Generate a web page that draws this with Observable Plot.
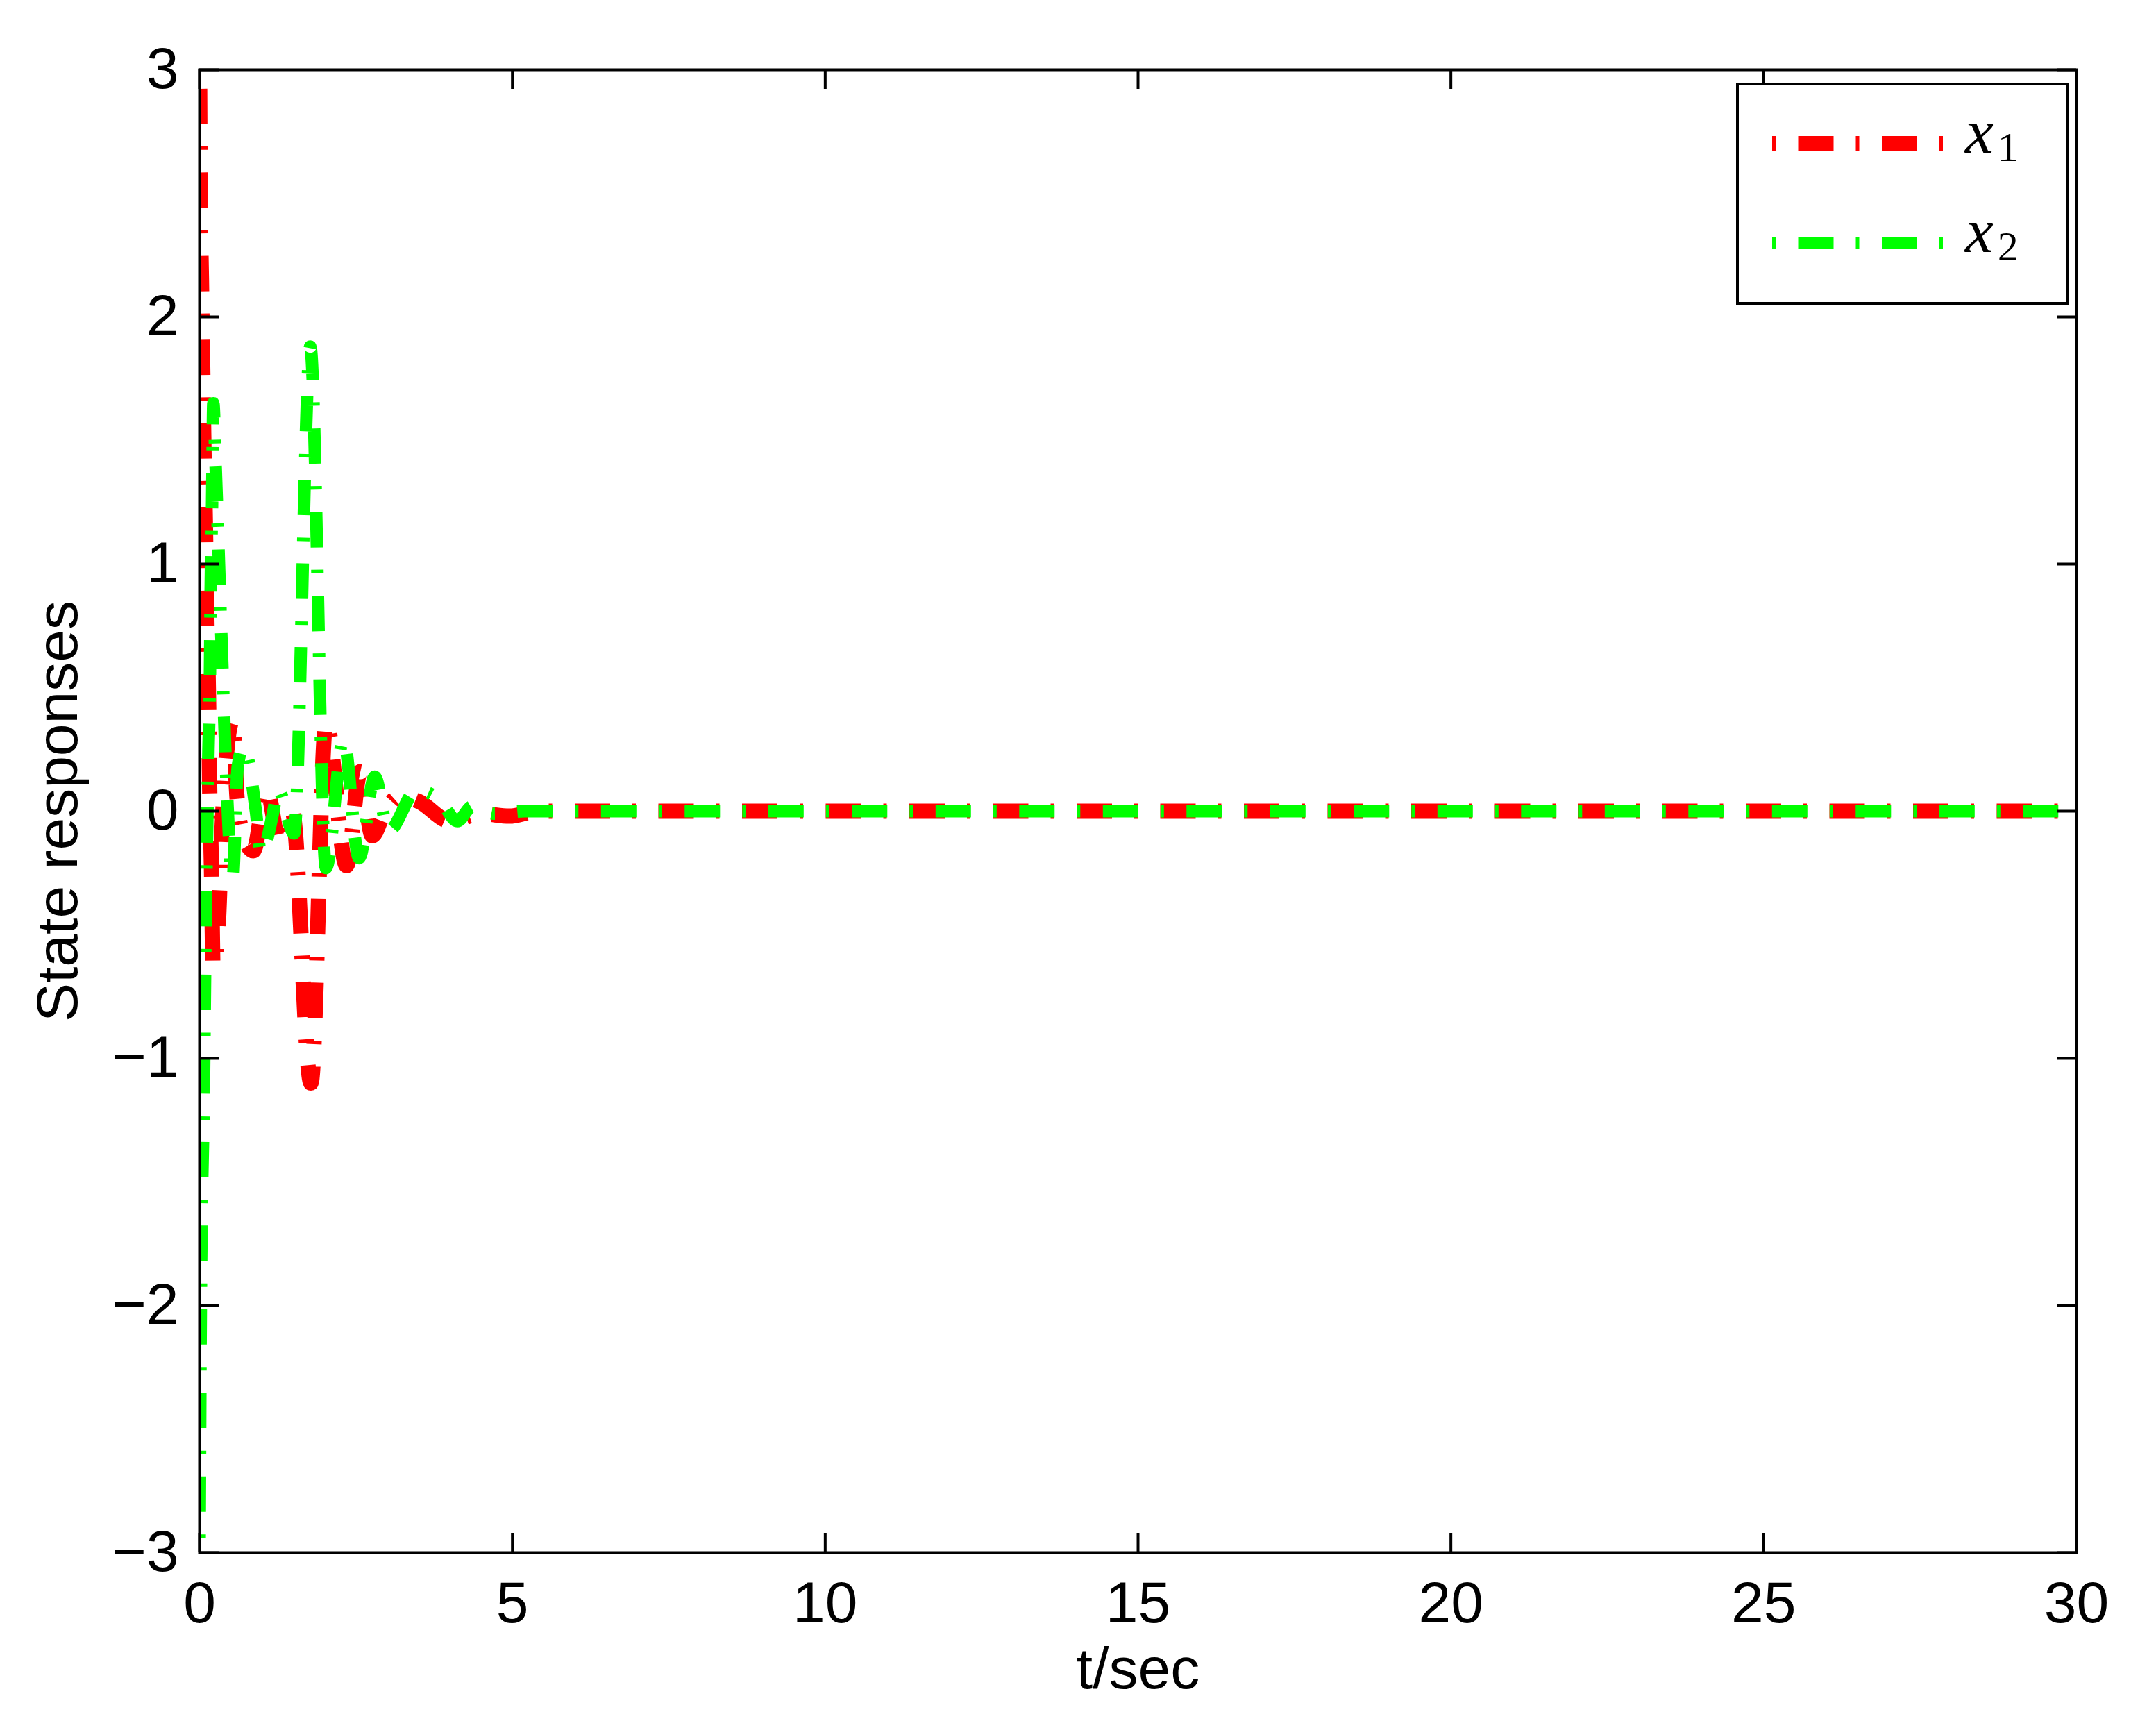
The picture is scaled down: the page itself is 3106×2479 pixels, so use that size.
<!DOCTYPE html>
<html><head><meta charset="utf-8">
<script src="https://cdn.jsdelivr.net/npm/d3@7"></script>
<script src="https://cdn.jsdelivr.net/npm/@observablehq/plot@0.6"></script>
<style>html,body{margin:0;padding:0;background:#fff;} svg{display:block}</style>
</head><body><div id="chart"></div>
<script>
// ---- data ----
const xTicks = [0, 5, 10, 15, 20, 25, 30];
const yTicks = [-3, -2, -1, 0, 1, 2, 3];

// x1 (red)
const t1 = [0, 0.01, 0.03, 0.05, 0.07, 0.095, 0.115, 0.145, 0.16, 0.19, 0.215, 0.30, 0.35, 0.42, 0.53, 0.60, 0.70, 0.86, 1.07, 1.28, 1.48, 1.78, 2.02, 2.35, 2.57, 2.76, 2.96, 3.2, 3.5, 4.0, 4.5, 4.95, 5.4, 30];
const x1 = [3.0, 2.5, 2.15, 1.8, 1.47, 1.13, 0.8, 0.43, 0.12, -0.23, -0.63, -0.45, -0.12, 0.2, 0.37, 0.05, -0.1, -0.16, 0.09, -0.13, 0.0, -1.1, 0.36, -0.22, 0.16, -0.1, 0.0, 0.06, 0.04, -0.04, -0.01, -0.02, 0, 0];

// x2 (green)
const t2 = [0, 0.02, 0.07, 0.10, 0.12, 0.14, 0.166, 0.178, 0.20, 0.22, 0.255, 0.30, 0.344, 0.39, 0.44, 0.53, 0.61, 0.70, 0.90, 0.98, 1.18, 1.25, 1.51, 1.77, 2.02, 2.30, 2.55, 2.80, 3.02, 3.47, 3.84, 4.12, 4.36, 4.7, 5.2, 30];
const x2 = [-3.0, -2.0, -1.1, -0.4, -0.1, 0.22, 0.55, 0.9, 1.24, 1.65, 1.41, 1.08, 0.74, 0.4, 0.06, -0.27, 0.18, 0.26, 0.0, -0.17, 0.0, 0.09, -0.09, 1.88, -0.23, 0.29, -0.19, 0.14, -0.08, 0.085, 0.045, -0.04, 0.02, -0.01, 0, 0];

const seriesNames = ["x1", "x2"];
const seriesSubs = ["1", "2"];
const colors = ["#ff0000", "#00ff00"];

// ---- layout / style ----
const W = 3106, H = 2479;
const M = {left: 287, right: 115, top: 100, bottom: 243};
const plotW = W - M.left - M.right;
const plotH = H - M.top - M.bottom;
const tickLen = 28;
const dash = [5, 32.5, 51, 32];
const P = dash.reduce((a, b) => a + b, 0);
const widths = [22, 18];
// time at which a long dash starts on the settled part (phase of the dash pattern)
const dashPhaseT = [5.98, 6.40];

const d1 = t1.map((t, i) => ({t, v: x1[i]}));
const d2 = t2.map((t, i) => ({t, v: x2[i]}));

const fmt = d => (d < 0 ? "\u2212" : "") + Math.abs(d);

const lineOpts = (k) => ({
  x: "t", y: "v", stroke: colors[k], strokeWidth: widths[k],
  strokeDasharray: dash.join(","), strokeLinecap: "butt", strokeLinejoin: "round",
  curve: "monotone-x", clip: true
});

const chart = Plot.plot({
  width: W, height: H,
  marginLeft: M.left, marginRight: M.right, marginTop: M.top, marginBottom: M.bottom,
  x: {domain: [0, 30], ticks: xTicks},
  y: {domain: [-3, 3], ticks: yTicks},
  style: {fontFamily: "Liberation Sans, Arial, sans-serif", fontSize: "84px", background: "white", color: "black"},
  marks: [
    Plot.line(d1, lineOpts(0)),
    Plot.line(d2, lineOpts(1)),
    Plot.tickX(xTicks, {x: d => d, insetTop: plotH - tickLen, strokeWidth: 4}),
    Plot.tickX(xTicks, {x: d => d, insetBottom: plotH - tickLen, strokeWidth: 4}),
    Plot.tickY(yTicks, {y: d => d, insetRight: plotW - tickLen, strokeWidth: 4}),
    Plot.tickY(yTicks, {y: d => d, insetLeft: plotW - tickLen, strokeWidth: 4}),
    Plot.axisX({ticks: xTicks, tickSize: 0, tickPadding: 41, label: null, fontSize: 84, tickFormat: fmt}),
    Plot.axisY({ticks: yTicks, tickSize: 0, tickPadding: 30, label: null, fontSize: 84, tickFormat: fmt}),
    Plot.text(["t/sec"], {text: d => d, frameAnchor: "bottom", dy: 169, fontSize: 84, lineAnchor: "middle", textAnchor: "middle"}),
    Plot.text(["State responses"], {text: d => d, frameAnchor: "left", dx: -203, rotate: -90, fontSize: 84, lineAnchor: "middle", textAnchor: "middle"}),
    Plot.frame({strokeWidth: 4})
  ]
});
document.getElementById("chart").appendChild(chart);

// align dash phase on the settled part
const xs = chart.scale("x");
const paths = chart.querySelectorAll('g[aria-label="line"] path');
const xEnd = xs.apply(30);
paths.forEach((p, k) => {
  const L = p.getTotalLength();
  const s = L - (xEnd - xs.apply(dashPhaseT[k]));
  const o = (((dash[0] + dash[1] - s) % P) + P) % P;
  p.setAttribute("stroke-dashoffset", o);
});

// legend (inside the axes, top-right)
const lg = {x: 2503, y: 121, w: 475, h: 316, lineX1: 2553, lineX2: 2800, rows: [207, 350], textX: 2831};
const svg = d3.select(chart);
const g = svg.append("g").attr("text-anchor", "start");
g.append("rect").attr("x", lg.x).attr("y", lg.y).attr("width", lg.w).attr("height", lg.h)
  .attr("fill", "white").attr("stroke", "black").attr("stroke-width", 4);
seriesNames.forEach((name, k) => {
  const yy = lg.rows[k];
  g.append("line").attr("x1", lg.lineX1).attr("x2", lg.lineX2).attr("y1", yy).attr("y2", yy)
    .attr("stroke", colors[k]).attr("stroke-width", widths[k]).attr("stroke-dasharray", dash.join(","))
    .attr("stroke-linecap", "butt");
  const tx = g.append("text").attr("x", lg.textX).attr("y", yy + 13).attr("text-anchor", "start")
    .attr("font-family", "Liberation Serif, DejaVu Serif, serif").attr("fill", "black");
  tx.append("tspan").attr("font-style", "italic").attr("font-size", 92).text("x");
  tx.append("tspan").attr("font-size", 60).attr("dx", 6).attr("dy", 12).text(seriesSubs[k]);
});
</script></body></html>
